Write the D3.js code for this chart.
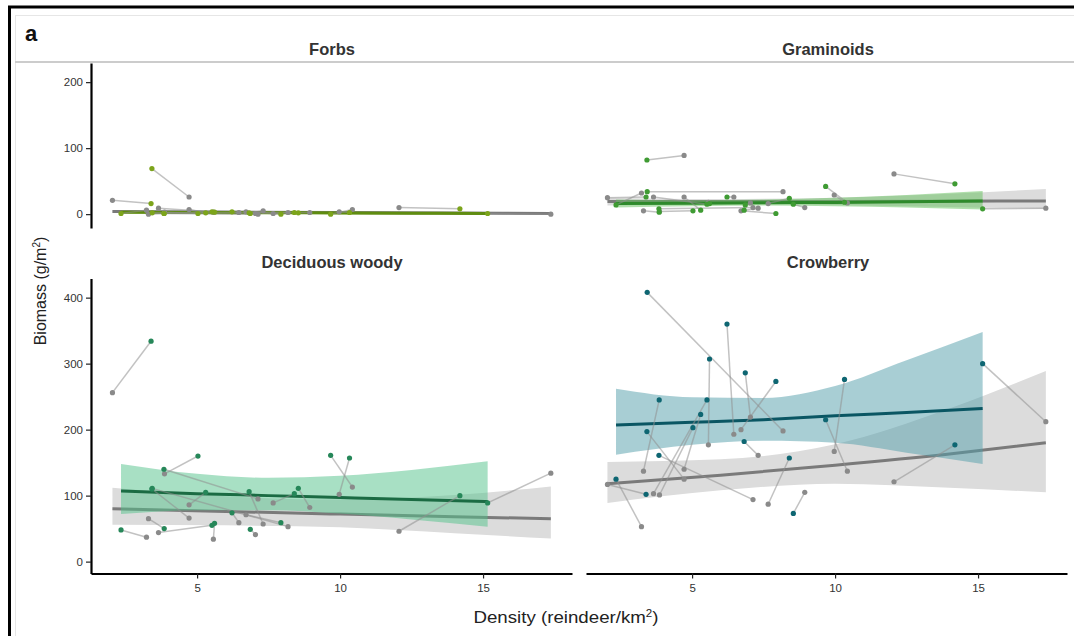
<!DOCTYPE html>
<html>
<head>
<meta charset="utf-8">
<script src="https://cdn.jsdelivr.net/npm/d3@7"></script>
<style>
body{margin:0;background:#fff;}
svg{display:block;font-family:"Liberation Sans",Arial,sans-serif;}
</style>
</head>
<body>
<div id="chart"></div>
<script>
//site densities (reindeer/km2): grey = first survey, coloured = second survey
const densGrey = [2.04,3.23,3.30,3.65,3.86,4.72,4.72,5.57,6.46,6.71,7.04,7.13,7.31,7.66,8.18,8.94,9.97,10.43,12.06,17.37];
const densCol  = [3.39,2.34,3.85,5.52,5.03,5.30,3.42,5.61,6.22,7.93,6.86,3.84,6.82,8.40,3.43,8.54,10.33,9.67,14.19,15.16];

//biomass (g/m2) per site, same site order as above
const forbsGrey = [21,6,0,9,3,7,26,3,2.5,3.5,1,0,5,1,2.5,2.5,3.5,7,10,0];
const forbsCol  = [16,1,1,3.5,1,2,69,3,3.5,0,1,1,2,2.5,2,2,2.5,0,8,1];
const gramGrey  = [25,32,5,26,4,26,89,18,26,5,17,10,9,16,34,10,29,17,61,9];
const gramCol   = [26,14,3,15,5,6,82,16,26,1,14,8,6,24,34,15,18,42,46,8];
const decGrey   = [256,37,65,44,133,86,66,34,59,71,41,95,57,89,53,82,102,113,46,134];
const decCol    = [334,48,50,55,160,105,110,58,74,59,49,140,106,103,111,111,157,161,100,89];
const crowGrey  = [117,53,137,103,101,140,125,177,193,200,219,94,161,87,198,105,167,137,121,212];
const crowCol   = [102,125,245,245,203,223,197,307,360,273,286,161,182,157,408,73,276,215,177,300];

//model fits (fit, lower, upper) at these densities
const fitXCol  = [2.34,5,7.5,10,12.5,15.16];
const fitXGrey = [2.04,6,10,14,17.37];

const forbsColFit = [3,2.6,2.2,1.8,1.4,1];
const forbsColLo  = [1,1,0.5,0,-0.5,-1];
const forbsColHi  = [5,4.5,4,3.5,3,3];
const forbsGreyFit = [4,3.2,2.4,1.6,1];
const forbsGreyLo  = [2,1.8,1,0,-1];
const forbsGreyHi  = [6,4.6,3.8,3.2,3];

const gramColFit = [16,16.6,17.2,17.8,18.6,20];
const gramColLo  = [10,12,13,12,10,7];
const gramColHi  = [22,21,22,25,29,35];
const gramGreyFit = [19,19,19,19.5,20];
const gramGreyLo  = [13,15,14,11,8];
const gramGreyHi  = [25,23,25,31,38];

const decColFit = [107,103,100,97,94,91];
const decColLo  = [72,78,78,73,64,53];
const decColHi  = [148,133,127,130,139,152];
const decGreyFit = [80,76,72,68,65];
const decGreyLo  = [56,55,52,43,35];
const decGreyHi  = [112,99,94,101,114];

const crowColFit = [207,211,215,221,226,232];
const crowColLo  = [162,177,183,180,165,148];
const crowColHi  = [262,249,248,266,305,348];
const crowGreyFit = [118,131,146,163,180];
const crowGreyLo  = [89,108,118,112,105];
const crowGreyHi  = [151,155,178,232,289];

//tick labels
const xTicks = [5,10,15];
const yTicksTop = [0,100,200];
const yTicksBot = [0,100,200,300,400];

const w = 1074;
const h = 636;

const svg = d3.select("#chart")
    .append("svg")
    .attr("width",w)
    .attr("height",h);

svg.append("rect").attr("width",w).attr("height",h).attr("fill","#fff");

//outer frame of the figure
svg.append("line").attr("x1",8).attr("x2",w).attr("y1",7).attr("y2",7)
    .attr("stroke","#000").attr("stroke-width",3);
svg.append("line").attr("x1",9.5).attr("x2",9.5).attr("y1",6).attr("y2",h)
    .attr("stroke","#000").attr("stroke-width",3);
svg.append("line").attr("x1",15).attr("x2",w).attr("y1",15.5).attr("y2",15.5)
    .attr("stroke","#e6e6e6").attr("stroke-width",1);
svg.append("line").attr("x1",15.5).attr("x2",15.5).attr("y1",15).attr("y2",h)
    .attr("stroke","#e6e6e6").attr("stroke-width",1);
svg.append("line").attr("x1",15).attr("x2",w).attr("y1",62).attr("y2",62)
    .attr("stroke","#cccccc").attr("stroke-width",2);

svg.append("text")
    .attr("x",25).attr("y",41)
    .attr("font-size",22).attr("font-weight","bold")
    .attr("fill","#111")
    .text("a");

//scales
const xLeft = d3.scaleLinear().domain([1.29,18.11]).range([91,572]);
const xRight = d3.scaleLinear().domain([1.29,18.11]).range([586,1067]);
const yTop = d3.scaleLinear().domain([-21,229]).range([228,63]);
const yBot = d3.scaleLinear().domain([-18,429]).range([573.5,278.5]);

const panels = [
  {title:"Forbs", x:xLeft, y:yTop, tx:332, ty:55, yAxis:yTicksTop, xAxis:false,
   grey:forbsGrey, col:forbsCol,
   cf:forbsColFit, cl:forbsColLo, ch:forbsColHi, gf:forbsGreyFit, gl:forbsGreyLo, gh:forbsGreyHi,
   pt:"#7ca41b", ln:"#5f8c10", rb:"#9cc43c"},
  {title:"Graminoids", x:xRight, y:yTop, tx:828, ty:55, yAxis:null, xAxis:false,
   grey:gramGrey, col:gramCol,
   cf:gramColFit, cl:gramColLo, ch:gramColHi, gf:gramGreyFit, gl:gramGreyLo, gh:gramGreyHi,
   pt:"#3f9b33", ln:"#2e8a2b", rb:"#62c05a"},
  {title:"Deciduous woody", x:xLeft, y:yBot, tx:332, ty:268, yAxis:yTicksBot, xAxis:true,
   grey:decGrey, col:decCol,
   cf:decColFit, cl:decColLo, ch:decColHi, gf:decGreyFit, gl:decGreyLo, gh:decGreyHi,
   pt:"#268759", ln:"#1b6b43", rb:"#51c189"},
  {title:"Crowberry", x:xRight, y:yBot, tx:828, ty:268, yAxis:null, xAxis:true,
   grey:crowGrey, col:crowCol,
   cf:crowColFit, cl:crowColLo, ch:crowColHi, gf:crowGreyFit, gl:crowGreyLo, gh:crowGreyHi,
   pt:"#0e6672", ln:"#0a5663", rb:"#519da9"}
];

panels.forEach(p=>{
    const g = svg.append("g");
    const x = p.x, y = p.y;

    //strip title
    g.append("text")
        .attr("x",p.tx).attr("y",p.ty)
        .attr("text-anchor","middle")
        .attr("font-size",16.5).attr("font-weight","bold")
        .attr("fill","#333")
        .text(p.title);

    const greyFit = fitXGrey.map((d,i)=>({x:d,f:p.gf[i],lo:p.gl[i],hi:p.gh[i]}));
    const colFit = fitXCol.map((d,i)=>({x:d,f:p.cf[i],lo:p.cl[i],hi:p.ch[i]}));

    const area = d3.area()
        .x(d=>x(d.x)).y0(d=>y(d.lo)).y1(d=>y(d.hi))
        .curve(d3.curveMonotoneX);
    const line = d3.line()
        .x(d=>x(d.x)).y(d=>y(d.f))
        .curve(d3.curveMonotoneX);

    //confidence ribbons and fits
    g.append("path").datum(greyFit).attr("d",area).attr("fill","#dcdcdc");
    g.append("path").datum(greyFit).attr("d",line)
        .attr("fill","none").attr("stroke","#7a7a7a").attr("stroke-width",3);
    g.append("path").datum(colFit).attr("d",area).attr("fill",p.rb).attr("opacity",0.5);
    g.append("path").datum(colFit).attr("d",line)
        .attr("fill","none").attr("stroke",p.ln).attr("stroke-width",3);

    //lines joining the two surveys of one site
    g.selectAll(".pair")
        .data(p.grey)
        .enter()
        .append("line")
        .attr("x1",(d,i)=>x(densGrey[i]))
        .attr("y1",(d,i)=>y(d))
        .attr("x2",(d,i)=>x(densCol[i]))
        .attr("y2",(d,i)=>y(p.col[i]))
        .attr("stroke","#8f8f8f")
        .attr("stroke-opacity",0.55)
        .attr("stroke-width",1.5);

    g.selectAll(".grey")
        .data(p.grey)
        .enter()
        .append("circle")
        .attr("cx",(d,i)=>x(densGrey[i]))
        .attr("cy",d=>y(d))
        .attr("r",2.6)
        .attr("fill","#8a8a8a");

    g.selectAll(".col")
        .data(p.col)
        .enter()
        .append("circle")
        .attr("cx",(d,i)=>x(densCol[i]))
        .attr("cy",d=>y(d))
        .attr("r",2.6)
        .attr("fill",p.pt);

    //axes
    if(p.yAxis){
        const ya = g.append("g")
            .attr("transform","translate("+(x.range()[0])+",0)")
            .call(d3.axisLeft(y).tickValues(p.yAxis).tickSize(5).tickSizeOuter(0).tickPadding(3));
        styleAxis(ya);
    }
    if(p.xAxis){
        const xa = g.append("g")
            .attr("transform","translate(0,"+(y.range()[0])+")")
            .call(d3.axisBottom(x).tickValues(xTicks).tickSize(5).tickSizeOuter(0).tickPadding(5));
        styleAxis(xa);
    }
});

function styleAxis(a){
    a.select(".domain").attr("stroke","#000").attr("stroke-width",2.2);
    a.selectAll(".tick line").attr("stroke","#222").attr("stroke-width",1.2);
    a.selectAll(".tick text")
        .attr("font-size",11.5)
        .attr("font-family","Liberation Sans, Arial, sans-serif")
        .attr("fill","#333");
}

//axis titles
svg.append("text")
    .attr("transform","translate(566,623) scale(1.1,1)")
    .attr("text-anchor","middle")
    .attr("font-size",17)
    .attr("fill","#222")
    .html('Density (reindeer/km<tspan dy="-6" font-size="10.5">2</tspan><tspan dy="6">)</tspan>');

svg.append("text")
    .attr("transform","translate(46,291) rotate(-90)")
    .attr("text-anchor","middle")
    .attr("font-size",16)
    .attr("fill","#222")
    .html('Biomass (g/m<tspan dy="-6" font-size="10">2</tspan><tspan dy="6">)</tspan>');
</script>
</body>
</html>
